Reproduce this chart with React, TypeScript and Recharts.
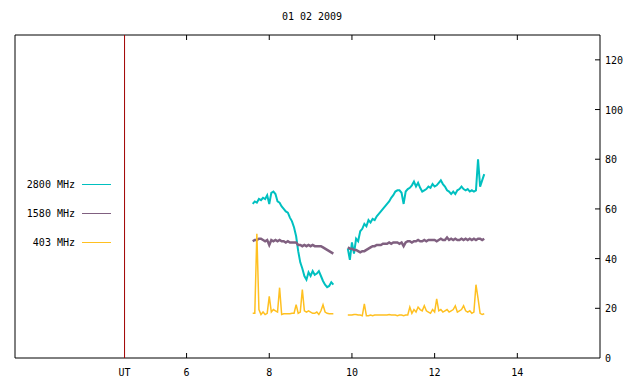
import React from 'react';
import { LineChart, Line, XAxis, YAxis, ReferenceLine } from 'recharts';

const times = [
  7.6, 7.65, 7.7, 7.75, 7.8, 7.85, 7.9, 7.95, 8.0, 8.05, 8.1, 8.15, 8.2, 8.25, 8.3, 8.35, 8.4, 8.45, 8.5, 8.55,
  8.6, 8.65, 8.7, 8.75, 8.8, 8.85, 8.9, 8.95, 9.0, 9.05, 9.1, 9.15, 9.2, 9.25, 9.3, 9.35, 9.4, 9.45, 9.5, 9.55,
  9.7,
  9.9, 9.95, 10.0, 10.05, 10.1, 10.15, 10.2, 10.25, 10.3, 10.35, 10.4, 10.45, 10.5, 10.55, 10.6, 10.65, 10.7, 10.75,
  10.8, 10.85, 10.9, 10.95, 11.0, 11.05, 11.1, 11.15, 11.2, 11.25, 11.3, 11.35, 11.4, 11.45, 11.5, 11.55, 11.6,
  11.65, 11.7, 11.75, 11.8, 11.85, 11.9, 11.95, 12.0, 12.05, 12.1, 12.15, 12.2, 12.25, 12.3, 12.35, 12.4, 12.45,
  12.5, 12.55, 12.6, 12.65, 12.7, 12.75, 12.8, 12.85, 12.9, 12.95, 13.0, 13.05, 13.1, 13.15, 13.2,
];

// 2800 MHz
const f2800 = [
  62.0, 63.0, 62.5, 64.0, 63.5, 64.5, 64.0, 65.5, 62.0, 66.5, 67.0, 66.0, 63.0, 62.5, 61.0, 60.0, 59.0, 58.5, 56.5, 55.0,
  52.5, 49.0, 43.0, 38.5, 36.0, 33.0, 31.5, 34.5, 33.0, 35.0, 33.5, 34.0, 35.0, 33.0, 31.0, 29.5, 28.5, 29.0, 30.5, 29.5,
  null,
  44.0, 39.5, 46.5, 42.0, 48.0, 47.0, 51.0, 52.0, 54.0, 53.0, 55.5, 54.5, 56.0, 55.5, 57.0, 58.0, 59.0, 60.0,
  61.0, 62.0, 63.0, 64.5, 65.5, 67.0, 67.5, 67.5, 66.5, 62.0, 67.0, 68.0, 68.5, 69.5, 71.0, 69.0, 70.5,
  68.5, 67.0, 67.5, 68.0, 69.0, 68.5, 70.0, 69.0, 69.5, 70.5, 71.5, 70.0, 69.0, 67.5, 67.0, 66.0, 67.0,
  66.0, 67.5, 68.0, 69.0, 68.0, 67.5, 68.0, 67.0, 67.5, 67.0, 67.5, 80.0, 69.0, 71.5, 74.0,
];

// 1580 MHz
const f1580 = [
  47.0, 47.5, 47.5, 48.0, 48.0, 47.5, 47.0, 47.5, 45.5, 47.5, 47.0, 47.5, 47.0, 47.5, 47.0, 47.0, 46.5, 47.0, 46.5, 46.5,
  46.5, 46.5, 45.5, 45.5, 45.0, 45.5, 45.0, 45.5, 45.0, 45.5, 45.0, 45.0, 45.0, 45.0, 44.5, 44.0, 43.5, 43.0, 42.5, 42.0,
  null,
  44.5, 44.0, 44.0, 43.5, 43.5, 43.0, 42.5, 43.0, 43.0, 43.5, 44.0, 44.5, 45.0, 45.0, 45.5, 45.5, 45.5, 46.0,
  46.0, 46.0, 46.5, 46.0, 46.5, 46.5, 46.5, 46.0, 46.5, 45.0, 46.5, 47.0, 47.0, 46.5, 47.0, 47.0, 47.5,
  47.0, 47.0, 47.5, 47.0, 47.5, 47.5, 47.5, 47.5, 47.0, 47.5, 48.0, 47.5, 47.5, 48.5, 47.5, 48.0, 47.5,
  48.0, 47.5, 47.5, 48.0, 47.5, 48.0, 47.5, 48.0, 47.5, 48.0, 47.5, 48.0, 48.0, 47.5, 48.0,
];

// 403 MHz
const f403 = [
  18.0, 18.0, 50.0, 19.5, 17.5, 18.5, 17.5, 18.0, 24.8, 18.5, 19.5, 19.0, 18.5, 28.3, 17.5, 17.8, 17.8, 17.8, 17.8, 18.0,
  18.0, 21.5, 18.0, 18.5, 27.5, 19.0, 18.5, 19.0, 18.5, 18.0, 18.0, 18.5, 17.5, 19.0, 21.4, 18.5, 18.0, 17.8, 17.8, 17.8,
  null,
  17.3, 17.3, 17.3, 17.5, 17.5, 17.3, 17.3, 17.0, 21.8, 17.0, 17.0, 17.3, 17.0, 17.3, 17.3, 17.3, 17.3, 17.3,
  17.3, 17.3, 17.5, 17.3, 17.3, 17.3, 17.0, 17.3, 17.3, 17.0, 17.3, 17.3, 20.5, 18.0, 19.5, 18.5, 20.5,
  19.5, 19.0, 21.0, 19.0, 18.5, 18.0, 19.5, 18.5, 23.8, 19.0, 19.5, 18.5, 19.0, 19.5, 18.5, 19.0, 19.5,
  21.0, 18.5, 19.0, 19.5, 21.0, 19.0, 18.5, 19.0, 18.0, 18.5, 29.5, 24.0, 18.0, 17.5, 17.8,
];

const series = [
  { key: 'f2800', name: '2800 MHz', color: '#00c0c0', width: 2 },
  { key: 'f1580', name: '1580 MHz', color: '#806080', width: 2.5 },
  { key: 'f403', name: '403 MHz', color: '#ffc020', width: 1.5 },
];

const xTicks = [4.5, 6, 8, 10, 12, 14];
const yTicks = [0, 20, 40, 60, 80, 100, 120];

const data = times.map((t, i) => ({ t, f2800: f2800[i], f1580: f1580[i], f403: f403[i] }));

const FONT = '"DejaVu Sans Mono", monospace';
const PLOT_H = 323;

const BottomTick = (props: any) => {
  const { x, y, payload } = props;
  const ut = payload.value === 4.5;
  return (
    <g>
      {!ut && <line x1={x} x2={x} y1={y} y2={y - 5} stroke="#000" />}
      {!ut && <line x1={x} x2={x} y1={y - PLOT_H} y2={y - PLOT_H + 5} stroke="#000" />}
      <text x={x} y={y + 18} textAnchor="middle" fontSize={10} fontFamily={FONT} fill="#000">
        {ut ? 'UT' : payload.value}
      </text>
    </g>
  );
};

const RightTick = (props: any) => {
  const { x, y, payload } = props;
  return (
    <g>
      {payload.value !== 0 && <line x1={x} x2={x - 5} y1={y} y2={y} stroke="#000" />}
      <text x={x + 5} y={y + 4} textAnchor="start" fontSize={10} fontFamily={FONT} fill="#000">
        {payload.value}
      </text>
    </g>
  );
};

export default function App() {
  return (
    <div style={{ position: 'absolute', left: 0, top: 0, width: 640, height: 384, background: '#fff' }}>
      <div
        style={{
          position: 'absolute', top: 11, left: 262, width: 100, textAlign: 'center',
          fontFamily: FONT, fontSize: 10, color: '#000',
        }}
      >
        01 02 2009
      </div>
      <div style={{ position: 'absolute', left: 0, top: 170, fontFamily: FONT, fontSize: 10, zIndex: 2 }}>
        {series.map((s) => (
          <div key={s.key} style={{ display: 'flex', alignItems: 'center', height: 29 }}>
            <span style={{ width: 75, textAlign: 'right', color: '#000' }}>{s.name}</span>
            <span style={{ display: 'inline-block', marginLeft: 7, width: 29, height: 1, background: s.color }} />
          </div>
        ))}
      </div>
      <LineChart width={640} height={384} data={data} margin={{ top: 35, right: 0, bottom: 0, left: 15 }}>
        <XAxis
          type="number"
          dataKey="t"
          domain={[1.85, 16]}
          ticks={xTicks}
          height={26}
          tickSize={0}
          tickMargin={0}
          axisLine={false}
          tick={<BottomTick />}
          allowDataOverflow
        />
        <YAxis
          orientation="right"
          type="number"
          domain={[0, 130]}
          ticks={yTicks}
          width={40}
          tickSize={0}
          tickMargin={0}
          axisLine={false}
          tick={<RightTick />}
          allowDataOverflow
        />
        <ReferenceLine x={1.85} stroke="#000" />
        <ReferenceLine x={16} stroke="#000" />
        <ReferenceLine y={0} stroke="#000" />
        <ReferenceLine y={130} stroke="#000" />
        <ReferenceLine x={4.5} stroke="#a00000" />
        {series.map((s) => (
          <Line
            key={s.key}
            name={s.name}
            dataKey={s.key}
            stroke={s.color}
            strokeWidth={s.width}
            dot={false}
            isAnimationActive={false}
            connectNulls={false}
            type="linear"
          />
        ))}
      </LineChart>
    </div>
  );
}
